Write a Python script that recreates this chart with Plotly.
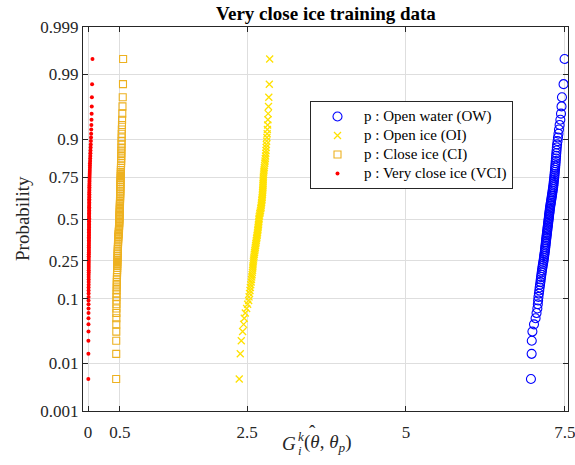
import plotly.graph_objects as go
from statistics import NormalDist

# ---- data (sorted sample values, 100 per class) ----
ow_values = [6.967, 6.978, 6.980, 6.990, 7.015, 7.040, 7.055, 7.068, 7.075, 7.080,
             7.085, 7.092, 7.098, 7.104, 7.110, 7.116, 7.121, 7.126, 7.131, 7.136,
             7.141, 7.146, 7.151, 7.156, 7.162, 7.167, 7.171, 7.175, 7.179, 7.183,
             7.187, 7.190, 7.193, 7.196, 7.199, 7.202, 7.205, 7.208, 7.211, 7.214,
             7.217, 7.220, 7.223, 7.226, 7.229, 7.232, 7.235, 7.238, 7.241, 7.244,
             7.247, 7.250, 7.253, 7.256, 7.259, 7.262, 7.265, 7.268, 7.272, 7.276,
             7.280, 7.284, 7.288, 7.292, 7.296, 7.300, 7.304, 7.308, 7.312, 7.316,
             7.320, 7.323, 7.326, 7.329, 7.333, 7.336, 7.339, 7.342, 7.345, 7.348,
             7.351, 7.354, 7.357, 7.360, 7.363, 7.366, 7.370, 7.374, 7.378, 7.386,
             7.392, 7.400, 7.408, 7.418, 7.430, 7.440, 7.448, 7.455, 7.480, 7.496]

oi_values = [2.378, 2.394, 2.410, 2.431, 2.447, 2.457, 2.473, 2.494, 2.510, 2.526,
             2.532, 2.540, 2.547, 2.553, 2.559, 2.565, 2.570, 2.575, 2.580, 2.584,
             2.588, 2.591, 2.594, 2.597, 2.600, 2.603, 2.607, 2.611, 2.615, 2.619,
             2.623, 2.627, 2.631, 2.635, 2.639, 2.643, 2.647, 2.651, 2.655, 2.659,
             2.663, 2.666, 2.669, 2.672, 2.675, 2.678, 2.681, 2.684, 2.686, 2.688,
             2.690, 2.693, 2.697, 2.702, 2.708, 2.713, 2.717, 2.721, 2.724, 2.727,
             2.730, 2.733, 2.736, 2.739, 2.741, 2.743, 2.745, 2.747, 2.749, 2.751,
             2.752, 2.753, 2.754, 2.755, 2.756, 2.758, 2.761, 2.764, 2.768, 2.772,
             2.776, 2.780, 2.784, 2.788, 2.792, 2.796, 2.799, 2.802, 2.805, 2.809,
             2.813, 2.817, 2.821, 2.825, 2.829, 2.833, 2.838, 2.843, 2.851, 2.857]

ci_values = [0.442, 0.443, 0.443, 0.444, 0.444, 0.445, 0.445, 0.446, 0.446, 0.447,
             0.447, 0.448, 0.449, 0.450, 0.451, 0.452, 0.453, 0.454, 0.455, 0.456,
             0.457, 0.458, 0.459, 0.460, 0.461, 0.462, 0.463, 0.464, 0.465, 0.466,
             0.467, 0.468, 0.469, 0.470, 0.471, 0.472, 0.473, 0.474, 0.476, 0.478,
             0.480, 0.482, 0.484, 0.486, 0.487, 0.488, 0.489, 0.490, 0.491, 0.492,
             0.493, 0.494, 0.495, 0.496, 0.497, 0.498, 0.499, 0.500, 0.500, 0.501,
             0.502, 0.502, 0.503, 0.504, 0.504, 0.505, 0.506, 0.507, 0.507, 0.508,
             0.509, 0.509, 0.510, 0.511, 0.512, 0.513, 0.514, 0.515, 0.516, 0.517,
             0.518, 0.519, 0.520, 0.521, 0.522, 0.523, 0.524, 0.525, 0.526, 0.527,
             0.528, 0.529, 0.531, 0.533, 0.535, 0.538, 0.541, 0.545, 0.549, 0.551]

vci_values = [0.004, 0.005, 0.005, 0.006, 0.006, 0.006, 0.007, 0.007, 0.007, 0.007,
              0.008, 0.008, 0.008, 0.008, 0.009, 0.009, 0.009, 0.009, 0.009, 0.010,
              0.010, 0.010, 0.010, 0.010, 0.011, 0.011, 0.011, 0.011, 0.011, 0.012,
              0.012, 0.012, 0.012, 0.012, 0.013, 0.013, 0.013, 0.013, 0.013, 0.014,
              0.014, 0.014, 0.014, 0.014, 0.015, 0.015, 0.015, 0.015, 0.015, 0.016,
              0.016, 0.016, 0.016, 0.016, 0.017, 0.017, 0.017, 0.017, 0.017, 0.018,
              0.018, 0.018, 0.018, 0.019, 0.019, 0.019, 0.019, 0.020, 0.020, 0.020,
              0.021, 0.021, 0.022, 0.022, 0.023, 0.024, 0.025, 0.026, 0.027, 0.028,
              0.029, 0.030, 0.032, 0.033, 0.035, 0.036, 0.038, 0.040, 0.042, 0.044,
              0.046, 0.048, 0.050, 0.052, 0.054, 0.056, 0.058, 0.060, 0.063, 0.069]

series_names = ["p : Open water (OW)", "p : Open ice (OI)",
                "p : Close ice (CI)", "p : Very close ice (VCI)"]

prob_ticks = [0.001, 0.01, 0.1, 0.25, 0.5, 0.75, 0.9, 0.99, 0.999]
prob_tick_labels = ["0.001", "0.01", "0.1", "0.25", "0.5", "0.75", "0.9", "0.99", "0.999"]
x_ticks = [0, 0.5, 2.5, 5, 7.5]
x_tick_labels = ["0", "0.5", "2.5", "5", "7.5"]

# ---- normal probability plot positions ----
nd = NormalDist()


def probit_positions(vals):
    n = len(vals)
    return [nd.inv_cdf((i + 0.5) / n) for i in range(n)]


def legend_name(s):
    return '<span style="font-size:15px">' + s + '</span>'


FONT = "Liberation Serif"
AX = "#262626"
W, H = 575, 465
ML, MR, MT, MB = 83, 7, 27, 54
PW, PH = W - ML - MR, H - MT - MB


def px(x):
    return (x - ML) / PW


def py(y):
    return (H - MB - y) / PH


fig = go.Figure()
fig.add_trace(go.Scatter(x=ow_values, y=probit_positions(ow_values), mode="markers",
                         name=legend_name(series_names[0]),
                         marker=dict(symbol="circle-open", size=9, color="#0000FF",
                                     line=dict(width=1.1, color="#0000FF"))))
fig.add_trace(go.Scatter(x=oi_values, y=probit_positions(oi_values), mode="markers",
                         name=legend_name(series_names[1]),
                         marker=dict(symbol="x-thin-open", size=7, color="#FFE100",
                                     line=dict(width=1.3, color="#FFE100"))))
fig.add_trace(go.Scatter(x=ci_values, y=probit_positions(ci_values), mode="markers",
                         name=legend_name(series_names[2]),
                         marker=dict(symbol="square-open", size=7, color="#EDB120",
                                     line=dict(width=1.1, color="#EDB120"))))
fig.add_trace(go.Scatter(x=vci_values, y=probit_positions(vci_values), mode="markers",
                         name=legend_name(series_names[3]),
                         marker=dict(symbol="circle", size=4, color="#FF0000")))

zlim = nd.inv_cdf(0.999)

lab_font = dict(family=FONT, size=19, color=AX)
small_font = dict(family=FONT, size=13, color=AX)

fig.update_layout(
    width=W, height=H,
    margin=dict(l=ML, r=MR, t=MT, b=MB, autoexpand=False),
    paper_bgcolor="white", plot_bgcolor="white",
    font=dict(family=FONT, color=AX, size=17),
    showlegend=True,
    legend=dict(x=px(310), y=py(101), xanchor="left", yanchor="top",
                bgcolor="white", bordercolor=AX, borderwidth=1,
                font=dict(family=FONT, size=12, color="black"),
                tracegroupgap=0, itemwidth=43),
    xaxis=dict(range=[-0.08, 7.55], tickmode="array", tickvals=x_ticks,
               ticktext=x_tick_labels, showgrid=True, gridcolor="#dedede",
               zeroline=False, showline=True, linecolor=AX, linewidth=1,
               mirror="ticks", ticks="inside", ticklen=5, tickcolor=AX,
               ticklabeloverflow="allow", ticklabelstandoff=6, automargin=False,
               tickfont=dict(family=FONT, size=17, color=AX)),
    yaxis=dict(range=[-zlim, zlim], tickmode="array",
               tickvals=[nd.inv_cdf(p) for p in prob_ticks],
               ticktext=prob_tick_labels, showgrid=True, gridcolor="#dedede",
               zeroline=False, showline=True, linecolor=AX, linewidth=1,
               mirror="ticks", ticks="inside", ticklen=5, tickcolor=AX,
               automargin=False,
               tickfont=dict(family=FONT, size=17, color=AX)),
    annotations=[
        dict(text="<b>Very close ice training data</b>", xref="paper", yref="paper",
             x=0.5, y=py(13), showarrow=False, xanchor="center", yanchor="middle",
             font=dict(family=FONT, size=19, color="black")),
        dict(text="Probability", xref="paper", yref="paper",
             x=px(22), y=0.5, textangle=-90, showarrow=False,
             xanchor="center", yanchor="middle", font=lab_font),
        # x-axis label  G_i^k(theta-hat, theta_p), assembled from pieces
        dict(text="<i>G</i>", xref="paper", yref="paper", x=px(298), y=py(443),
             showarrow=False, xanchor="right", yanchor="middle", font=lab_font),
        dict(text="<i>k</i>", xref="paper", yref="paper", x=px(295.5), y=py(436),
             showarrow=False, xanchor="left", yanchor="middle", font=small_font),
        dict(text="<i>i</i>", xref="paper", yref="paper", x=px(296), y=py(450),
             showarrow=False, xanchor="left", yanchor="middle", font=small_font),
        dict(text="(<i>θ</i>, <i>θ</i><sub><i>p</i></sub>)", xref="paper", yref="paper",
             x=px(302), y=py(443), showarrow=False, xanchor="left", yanchor="middle",
             font=lab_font),
        dict(text="ˆ", xref="paper", yref="paper", x=px(312.5), y=py(431),
             showarrow=False, xanchor="center", yanchor="middle", font=lab_font),
    ],
)

fig.write_html("out.html")
